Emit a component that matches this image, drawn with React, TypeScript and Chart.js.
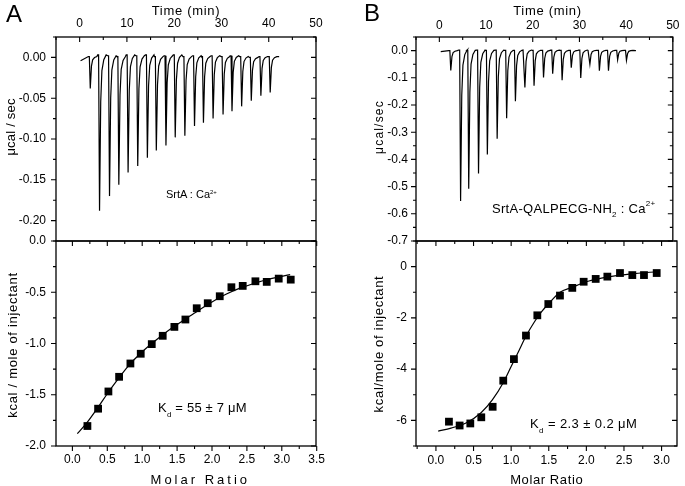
import React, { useEffect, useRef } from 'react';
import { Chart, registerables } from 'chart.js';

Chart.register(...registerables);

const FONT = '"Liberation Sans", Arial, Helvetica, sans-serif';
const PAGE_W = 685;
const PAGE_H = 486;

// ---------------- Panel A : raw thermogram (µcal/sec vs min) ----------------
const INJ_TIME_A = [2.25, 4.21, 6.32, 8.29, 10.25, 12.29, 14.33, 16.22, 18.26, 20.22, 22.26, 24.3, 26.19, 28.23, 30.34, 32.23, 34.27, 36.31, 38.34, 40.31];
const PEAK_MIN_A = [-0.038, -0.188, -0.17, -0.156, -0.141, -0.133, -0.123, -0.114, -0.108, -0.098, -0.096, -0.084, -0.08, -0.075, -0.07, -0.066, -0.06, -0.053, -0.047, -0.043];
const BASELINE_A = [0.001, 0.003, 0.002, 0.001, 0.003, 0.002, 0.003, 0.001, 0.002, 0.003, 0.001, 0.002, 0.001, 0.002, 0.001, 0.002, 0.001, 0.0, 0.001, 0.001];
const TRACE_START_A = [0.2, -0.004];
const TRACE_END_A = [42.2, 0.001];

// ---------------- Panel B : raw thermogram ----------------
const INJ_TIME_B = [2.45, 4.55, 6.29, 8.39, 10.28, 12.38, 14.41, 16.29, 18.32, 20.28, 22.31, 24.27, 26.29, 28.25, 30.28, 32.24, 34.27, 36.22, 38.18, 40.07];
const PEAK_MIN_B = [-0.073, -0.553, -0.508, -0.452, -0.382, -0.324, -0.249, -0.186, -0.136, -0.129, -0.099, -0.085, -0.109, -0.063, -0.101, -0.05, -0.074, -0.074, -0.034, -0.036];
const BASELINE_B = [0.0, 0.002, 0.001, 0.002, 0.001, 0.002, 0.001, 0.001, 0.002, 0.001, 0.001, 0.002, 0.001, 0.001, 0.002, 0.001, 0.001, 0.001, 0.001, 0.001];
const TRACE_START_B = [0.3, -0.004];
const TRACE_END_B = [42.1, 0.0];

// shape of one injection peak (min offset from the minimum, fraction of depth)
const PEAK_SHAPE_DT = [-0.2, 0, 0.25, 0.5, 0.9, 1.4];
const PEAK_SHAPE_FRAC = [0, 1, 0.3, 0.1, 0.03, 0];

// ---------------- Panel A : integrated heats ----------------
const RATIO_A = [0.215, 0.368, 0.516, 0.669, 0.831, 0.979, 1.137, 1.294, 1.461, 1.619, 1.781, 1.939, 2.111, 2.278, 2.44, 2.622, 2.784, 2.956, 3.128];
const HEAT_A = [-1.805, -1.636, -1.468, -1.325, -1.195, -1.1, -1.006, -0.925, -0.838, -0.766, -0.656, -0.607, -0.539, -0.451, -0.438, -0.393, -0.399, -0.367, -0.377];
const FIT_X_A = [0.07, 0.2, 0.35, 0.5, 0.65, 0.8, 1.0, 1.2, 1.4, 1.6, 1.8, 2.0, 2.2, 2.4, 2.6, 2.8, 3.0, 3.12];
const FIT_Y_A = [-1.88, -1.78, -1.64, -1.49, -1.35, -1.22, -1.08, -0.965, -0.86, -0.77, -0.68, -0.595, -0.52, -0.46, -0.415, -0.375, -0.345, -0.328];

// ---------------- Panel B : integrated heats ----------------
const RATIO_B = [0.173, 0.315, 0.457, 0.603, 0.754, 0.895, 1.037, 1.197, 1.348, 1.494, 1.649, 1.813, 1.964, 2.124, 2.279, 2.447, 2.611, 2.766, 2.935];
const HEAT_B = [-6.05, -6.2, -6.12, -5.88, -5.47, -4.45, -3.61, -2.69, -1.9, -1.46, -1.13, -0.83, -0.59, -0.48, -0.39, -0.25, -0.33, -0.33, -0.25];
const FIT_X_B = [0.03, 0.2, 0.4, 0.6, 0.75, 0.9, 1.0, 1.1, 1.2, 1.3, 1.4, 1.5, 1.65, 1.8, 2.0, 2.2, 2.4, 2.6, 2.8, 2.96];
const FIT_Y_B = [-6.42, -6.3, -6.1, -5.7, -5.2, -4.5, -3.9, -3.3, -2.7, -2.2, -1.78, -1.44, -1.0, -0.82, -0.59, -0.45, -0.35, -0.28, -0.23, -0.2];

// ---------------- Axis ticks ----------------
const TIME_TICKS = [0, 10, 20, 30, 40, 50];
const TIME_LABELS = ['0', '10', '20', '30', '40', '50'];
const A_TOP_Y_TICKS = [0, -0.05, -0.1, -0.15, -0.2];
const A_TOP_Y_LABELS = ['0.00', '-0.05', '-0.10', '-0.15', '-0.20'];
const A_BOT_Y_TICKS = [0, -0.5, -1, -1.5, -2];
const A_BOT_Y_LABELS = ['0.0', '-0.5', '-1.0', '-1.5', '-2.0'];
const A_X_TICKS = [0, 0.5, 1, 1.5, 2, 2.5, 3, 3.5];
const A_X_LABELS = ['0.0', '0.5', '1.0', '1.5', '2.0', '2.5', '3.0', '3.5'];
const B_TOP_Y_TICKS = [0, -0.1, -0.2, -0.3, -0.4, -0.5, -0.6, -0.7];
const B_TOP_Y_LABELS = ['0.0', '-0.1', '-0.2', '-0.3', '-0.4', '-0.5', '-0.6', '-0.7'];
const B_BOT_Y_TICKS = [0, -2, -4, -6];
const B_BOT_Y_LABELS = ['0', '-2', '-4', '-6'];
const B_X_TICKS = [0, 0.5, 1, 1.5, 2, 2.5, 3];
const B_X_LABELS = ['0.0', '0.5', '1.0', '1.5', '2.0', '2.5', '3.0'];

function buildTrace(start: number[], end: number[], times: number[], mins: number[], base: number[]) {
  const pts: { x: number; y: number }[] = [{ x: start[0], y: start[1] }];
  times.forEach((t, i) => {
    const b = base[i];
    pts.push({ x: t - 0.4, y: b });
    PEAK_SHAPE_DT.forEach((dt, k) => {
      pts.push({ x: t + dt, y: b + (mins[i] - b) * PEAK_SHAPE_FRAC[k] });
    });
  });
  pts.push({ x: end[0], y: end[1] });
  return pts;
}

const zip = (xs: number[], ys: number[]) => xs.map((x, i) => ({ x, y: ys[i] }));

type Area = { left: number; top: number; right: number; bottom: number };
type Side = { side: 'left' | 'right' | 'top' | 'bottom'; scale: 'x' | 'y'; dir: 'in' | 'out'; minor: number };

const MAJOR_LEN = 5;
const MINOR_LEN = 3;

const frameTicksPlugin = {
  id: 'frameTicks',
  afterDatasetsDraw(chart: any, _args: any, opts: any) {
    const { ctx, chartArea: a } = chart;
    if (!opts || !opts.sides) return;
    ctx.save();
    ctx.strokeStyle = '#000';
    ctx.lineWidth = 1.3;
    ctx.strokeRect(a.left, a.top, a.right - a.left, a.bottom - a.top);
    ctx.lineWidth = 1.1;
    ctx.beginPath();
    for (const s of opts.sides as Side[]) {
      const sc = chart.scales[s.scale];
      const majors: number[] = sc.ticks.map((t: any) => t.value);
      const vals: [number, number][] = majors.map((v) => [v, MAJOR_LEN]);
      const first = Math.ceil(sc.min / s.minor - 1e-6);
      const last = Math.floor(sc.max / s.minor + 1e-6);
      for (let k = first; k <= last; k++) {
        const v = k * s.minor;
        if (!majors.some((m) => Math.abs(m - v) < s.minor * 0.01)) vals.push([v, MINOR_LEN]);
      }
      const sign = s.dir === 'out' ? 1 : -1;
      for (const [v, len] of vals) {
        const p = sc.getPixelForValue(v);
        if (s.side === 'left') { ctx.moveTo(a.left, p); ctx.lineTo(a.left - sign * len, p); }
        else if (s.side === 'right') { ctx.moveTo(a.right, p); ctx.lineTo(a.right + sign * len, p); }
        else if (s.side === 'top') { ctx.moveTo(p, a.top); ctx.lineTo(p, a.top - sign * len); }
        else { ctx.moveTo(p, a.bottom); ctx.lineTo(p, a.bottom + sign * len); }
      }
    }
    ctx.stroke();
    ctx.restore();
  },
};

type AxisSpec = { min: number; max: number; ticks: number[]; labels: string[]; pad: number };

function makeConfig(area: Area, xPos: 'top' | 'bottom', x: AxisSpec, y: AxisSpec, datasets: any[], sides: Side[]): any {
  const tickFont = { family: FONT, size: 12, lineHeight: 1 };
  return {
    type: 'scatter',
    data: { datasets },
    plugins: [frameTicksPlugin],
    options: {
      responsive: false,
      animation: false,
      devicePixelRatio: 1,
      events: [],
      layout: {
        padding: {
          left: 0,
          right: PAGE_W - area.right,
          top: xPos === 'top' ? 0 : area.top,
          bottom: xPos === 'bottom' ? 0 : PAGE_H - area.bottom,
        },
      },
      plugins: {
        legend: { display: false },
        tooltip: { enabled: false },
        frameTicks: { sides },
      },
      scales: {
        x: {
          type: 'linear',
          position: xPos,
          min: x.min,
          max: x.max,
          grid: { display: false, drawTicks: false },
          border: { display: false },
          afterBuildTicks: (sc: any) => { sc.ticks = x.ticks.map((v) => ({ value: v })); },
          afterFit: (sc: any) => { sc.height = xPos === 'top' ? area.top : PAGE_H - area.bottom; },
          ticks: {
            autoSkip: false,
            maxRotation: 0,
            padding: x.pad,
            color: '#000',
            font: tickFont,
            callback: (_v: any, i: number) => x.labels[i],
          },
        },
        y: {
          type: 'linear',
          position: 'left',
          min: y.min,
          max: y.max,
          grid: { display: false, drawTicks: false },
          border: { display: false },
          afterBuildTicks: (sc: any) => { sc.ticks = y.ticks.map((v) => ({ value: v })); },
          afterFit: (sc: any) => { sc.width = area.left; },
          ticks: {
            autoSkip: false,
            padding: y.pad,
            color: '#000',
            font: tickFont,
            callback: (_v: any, i: number) => y.labels[i],
          },
        },
      },
    },
  };
}

const traceDs = (data: any[]) => ({
  data,
  showLine: true,
  borderColor: '#000',
  borderWidth: 1.2,
  pointRadius: 0,
  tension: 0,
});
const fitDs = (data: any[]) => ({
  data,
  showLine: true,
  borderColor: '#000',
  borderWidth: 1.2,
  pointRadius: 0,
  cubicInterpolationMode: 'monotone',
});
const pointsDs = (data: any[]) => ({
  data,
  showLine: false,
  pointStyle: 'rect',
  pointRadius: 5.5,
  pointBackgroundColor: '#000',
  pointBorderWidth: 0,
  backgroundColor: '#000',
  borderColor: '#000',
});

const A_TOP: Area = { left: 56, top: 37, right: 316, bottom: 241 };
const A_BOT: Area = { left: 56, top: 241, right: 316, bottom: 446 };
const B_TOP: Area = { left: 416, top: 37, right: 677, bottom: 241 };
const B_BOT: Area = { left: 416, top: 241, right: 677, bottom: 446 };

function sidesFor(top: boolean, xMinor: number, yMinor: number): Side[] {
  const s: Side[] = [
    { side: 'left', scale: 'y', dir: 'out', minor: yMinor },
    { side: 'right', scale: 'y', dir: 'in', minor: yMinor },
  ];
  if (top) s.push({ side: 'top', scale: 'x', dir: 'in', minor: xMinor });
  else {
    s.push({ side: 'bottom', scale: 'x', dir: 'out', minor: xMinor });
    s.push({ side: 'top', scale: 'x', dir: 'in', minor: xMinor });
  }
  return s;
}

const baseText: React.CSSProperties = {
  position: 'absolute',
  fontFamily: FONT,
  color: '#000',
  lineHeight: 1,
  whiteSpace: 'nowrap',
  margin: 0,
};

function Label(props: { x: number; y: number; size: number; ls?: number; center?: boolean; rotate?: boolean; children: any }) {
  const { x, y, size, ls = 0, center, rotate, children } = props;
  let transform: string | undefined;
  if (rotate) transform = 'translate(-50%, -50%) rotate(-90deg)';
  else if (center) transform = 'translateX(-50%)';
  return (
    <div style={{ ...baseText, left: x, top: y, fontSize: size, letterSpacing: ls, transform }}>{children}</div>
  );
}

const sup = (size: number, shift: number): React.CSSProperties => ({ fontSize: size, position: 'relative', top: shift, lineHeight: 0, verticalAlign: 'baseline' });

export default function App() {
  const r1 = useRef<HTMLCanvasElement>(null);
  const r2 = useRef<HTMLCanvasElement>(null);
  const r3 = useRef<HTMLCanvasElement>(null);
  const r4 = useRef<HTMLCanvasElement>(null);

  useEffect(() => {
    const charts: Chart[] = [];
    const traceA = buildTrace(TRACE_START_A, TRACE_END_A, INJ_TIME_A, PEAK_MIN_A, BASELINE_A);
    const traceB = buildTrace(TRACE_START_B, TRACE_END_B, INJ_TIME_B, PEAK_MIN_B, BASELINE_B);

    charts.push(new Chart(r1.current as HTMLCanvasElement, makeConfig(
      A_TOP, 'top',
      { min: -5, max: 50, ticks: TIME_TICKS, labels: TIME_LABELS, pad: 7 },
      { min: -0.225, max: 0.025, ticks: A_TOP_Y_TICKS, labels: A_TOP_Y_LABELS, pad: 10 },
      [traceDs(traceA)],
      sidesFor(true, 5, 0.025),
    )));
    charts.push(new Chart(r2.current as HTMLCanvasElement, makeConfig(
      A_BOT, 'bottom',
      { min: -0.235, max: 3.49, ticks: A_X_TICKS, labels: A_X_LABELS, pad: 8 },
      { min: -2, max: 0, ticks: A_BOT_Y_TICKS, labels: A_BOT_Y_LABELS, pad: 10 },
      [fitDs(zip(FIT_X_A, FIT_Y_A)), pointsDs(zip(RATIO_A, HEAT_A))],
      sidesFor(false, 0.25, 0.25),
    )));
    charts.push(new Chart(r3.current as HTMLCanvasElement, makeConfig(
      B_TOP, 'top',
      { min: -5, max: 50, ticks: TIME_TICKS, labels: TIME_LABELS, pad: 5.5 },
      { min: -0.7, max: 0.05, ticks: B_TOP_Y_TICKS, labels: B_TOP_Y_LABELS, pad: 8 },
      [traceDs(traceB)],
      sidesFor(true, 5, 0.05),
    )));
    charts.push(new Chart(r4.current as HTMLCanvasElement, makeConfig(
      B_BOT, 'bottom',
      { min: -0.265, max: 3.205, ticks: B_X_TICKS, labels: B_X_LABELS, pad: 9 },
      { min: -7, max: 1, ticks: B_BOT_Y_TICKS, labels: B_BOT_Y_LABELS, pad: 9 },
      [fitDs(zip(FIT_X_B, FIT_Y_B)), pointsDs(zip(RATIO_B, HEAT_B))],
      sidesFor(false, 0.25, 1),
    )));
    return () => charts.forEach((c) => c.destroy());
  }, []);

  const cv: React.CSSProperties = { position: 'absolute', left: 0, top: 0, width: PAGE_W, height: PAGE_H };

  return (
    <div style={{ position: 'fixed', left: 0, top: 0, width: PAGE_W, height: PAGE_H, background: '#fff', overflow: 'hidden' }}>
      <canvas ref={r1} width={PAGE_W} height={PAGE_H} style={cv} />
      <canvas ref={r2} width={PAGE_W} height={PAGE_H} style={cv} />
      <canvas ref={r3} width={PAGE_W} height={PAGE_H} style={cv} />
      <canvas ref={r4} width={PAGE_W} height={PAGE_H} style={cv} />

      <Label x={6} y={2} size={24}>A</Label>
      <Label x={364} y={1} size={24}>B</Label>

      <Label x={186} y={4} size={13} ls={0.7} center>Time (min)</Label>
      <Label x={547.5} y={4} size={13} ls={0.7} center>Time (min)</Label>
      <Label x={200.3} y={473} size={13} ls={3} center>Molar Ratio</Label>
      <Label x={546.7} y={473} size={13} ls={0.6} center>Molar Ratio</Label>

      <Label x={10} y={127} size={13} ls={0.2} rotate>μcal / sec</Label>
      <Label x={12} y={344.5} size={13} ls={0.7} rotate>kcal / mole of injectant</Label>
      <Label x={379} y={126.5} size={12} ls={1.2} rotate>μcal/sec</Label>
      <Label x={378} y={343.5} size={13} ls={0.7} rotate>kcal/mole of injectant</Label>

      <Label x={166} y={188.7} size={11}>
        SrtA : Ca<span style={sup(6, -4)}>2+</span>
      </Label>
      <Label x={492} y={202} size={13} ls={0.3}>
        SrtA-QALPECG-NH<span style={sup(8, 4)}>2</span> : Ca<span style={sup(8, -7)}>2+</span>
      </Label>
      <Label x={158} y={400.7} size={13} ls={0.2}>
        K<span style={sup(8, 5)}>d</span> = 55 ± 7 μM
      </Label>
      <Label x={530} y={416.7} size={13} ls={0.4}>
        K<span style={sup(8, 5)}>d</span> = 2.3 ± 0.2 μM
      </Label>
    </div>
  );
}
